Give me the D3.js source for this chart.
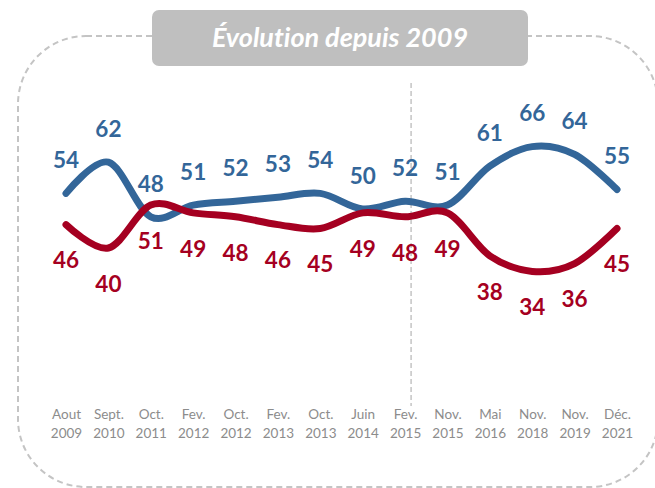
<!DOCTYPE html>
<html>
<head>
<meta charset="utf-8">
<script src="https://cdn.jsdelivr.net/npm/d3@7"></script>
<style>
  body { margin: 0; background: #fff; }
  text { font-variant-ligatures: none; }
  .axisX text { fill: #8c8c8c; font-family: Lato, sans-serif; font-size: 13.5px; }
  .lbl { font-family: Lato, sans-serif; font-weight: bold; font-size: 22.5px; }
</style>
</head>
<body>
<div id="chart"></div>
<script>
let months = ["Aout", "Sept.", "Oct.", "Fev.", "Oct.", "Fev.", "Oct.", "Juin", "Fev.", "Nov.", "Mai", "Nov.", "Nov.", "Déc."]
let years = ["2009", "2010", "2011", "2012", "2012", "2013", "2013", "2014", "2015", "2015", "2016", "2018", "2019", "2021"]
let blueValues = [54, 62, 48, 51, 52, 53, 54, 50, 52, 51, 61, 66, 64, 55]
let redValues = [46, 40, 51, 49, 48, 46, 45, 49, 48, 49, 38, 34, 36, 45]
let markerAt = "Fev. 2015"

let colorMap = {blue: "#336699", red: "#A50021"}

let width = 655, height = 488;

let cats = months.map(function(m, i) { return m + " " + years[i]; });

let x = d3.scalePoint()
          .domain(cats)
          .range([66, 617]);
let y = d3.scaleLinear()
          .domain([0, 100])
          .range([404, 14]);

let svg = d3.select("#chart")
            .append("svg")
            .attr("width", width)
            .attr("height", height);

// dashed frame
svg.append("rect")
   .attr("x", 18)
   .attr("y", 36)
   .attr("width", 640)
   .attr("height", 451)
   .attr("rx", 68)
   .attr("fill", "none")
   .attr("stroke", "#c4c4c4")
   .attr("stroke-width", 2)
   .attr("stroke-dasharray", "6,4");

// title box
svg.append("rect")
   .attr("x", 152)
   .attr("y", 10)
   .attr("width", 376)
   .attr("height", 56)
   .attr("rx", 7)
   .attr("fill", "#bfbfbf");

svg.append("text")
   .attr("x", 340)
   .attr("y", 47)
   .attr("text-anchor", "middle")
   .attr("fill", "#fff")
   .style("font-family", "Lato, sans-serif")
   .style("font-weight", "bold")
   .style("font-style", "italic")
   .style("font-size", "27px")
   .text("Évolution depuis 2009");

// vertical marker
svg.append("line")
   .attr("x1", x(markerAt) + 6)
   .attr("x2", x(markerAt) + 6)
   .attr("y1", 83)
   .attr("y2", 406)
   .attr("stroke", "#a6a6a6")
   .attr("stroke-width", 1)
   .attr("stroke-dasharray", "5,3");

// x axis
let xAxis = svg.append("g")
   .attr("class", "axisX")
   .attr("transform", "translate(0,405)")
   .call(d3.axisBottom(x).tickSize(0).tickFormat(""));
xAxis.select(".domain").remove();
xAxis.selectAll(".tick text")
     .each(function(d, i) {
       let t = d3.select(this);
       t.attr("y", 0).attr("dy", null);
       t.append("tspan").attr("x", 0).attr("y", 14).text(months[i]);
       t.append("tspan").attr("x", 0).attr("y", 33).text(years[i]);
     });

let line = d3.line()
             .x(function(d, i) { return x(cats[i]); })
             .y(function(d) { return y(d); })
             .curve(d3.curveCardinal.tension(0));

let series = [
  {name: "blue", values: blueValues, dy: -33},
  {name: "red", values: redValues, dy: 36}
];

series.forEach(function(s) {
  svg.append("path")
     .datum(s.values)
     .attr("d", line)
     .attr("fill", "none")
     .attr("stroke", colorMap[s.name])
     .attr("stroke-width", 7)
     .attr("stroke-linecap", "round");
});

series.forEach(function(s) {
  svg.selectAll(".lbl-" + s.name)
     .data(s.values)
     .enter().append("text")
     .attr("class", "lbl lbl-" + s.name)
     .attr("x", function(d, i) { return x(cats[i]); })
     .attr("y", function(d) { return y(d) + s.dy; })
     .attr("dy", "0.35em")
     .attr("text-anchor", "middle")
     .attr("fill", colorMap[s.name])
     .text(function(d) { return d; });
});
</script>
</body>
</html>
